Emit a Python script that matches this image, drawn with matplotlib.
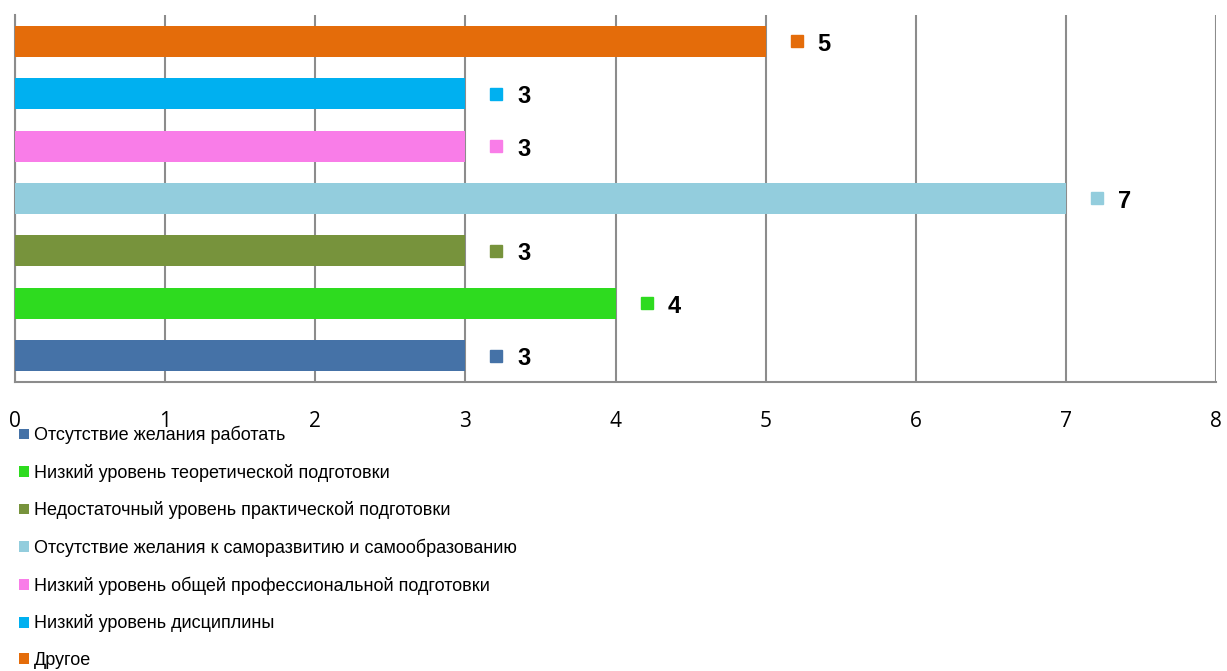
import matplotlib
matplotlib.use('Agg')
import matplotlib.pyplot as plt
import matplotlib.transforms as mtransforms
from matplotlib.patches import Patch
from matplotlib import font_manager

categories = [
    'Отсутствие желания работать',
    'Низкий уровень теоретической подготовки',
    'Недостаточный уровень практической подготовки',
    'Отсутствие желания к саморазвитию и самообразованию',
    'Низкий уровень общей профессиональной подготовки',
    'Низкий уровень дисциплины',
    'Другое',
]
values = [3, 4, 3, 7, 3, 3, 5]
colors = ['#4572a7', '#2edb1f', '#77933c', '#93cddd', '#f97de8', '#00b0f0', '#e46c0a']
x_ticks = [0, 1, 2, 3, 4, 5, 6, 7, 8]

names = {f.name for f in font_manager.fontManager.ttflist}
narrow = 'Liberation Sans Narrow' if 'Liberation Sans Narrow' in names else 'Liberation Sans'

fig = plt.figure(figsize=(12.27, 6.71), dpi=100)
ax = fig.add_axes([15 / 1227, 1 - 382 / 671, 1201 / 1227, 367 / 671])

ypos = list(range(len(categories)))
ax.barh(ypos, values, height=0.59, color=colors, zorder=3)

ax.set_xlim(0, 8)
ax.set_ylim(-0.5, 6.5)
ax.set_xticks(x_ticks)
ax.set_xticklabels([str(t) for t in x_ticks], fontsize=15, family='Open Sans')
ax.tick_params(axis='x', length=0, pad=21)
ax.set_yticks([])
ax.grid(axis='x', color='#8c8c8c', linewidth=1.5, zorder=0)
for s in ['top', 'right']:
    ax.spines[s].set_visible(False)
for s in ['left', 'bottom']:
    ax.spines[s].set_color('#8c8c8c')
    ax.spines[s].set_linewidth(1.5)

# value labels with small colour squares
for y, v, c in zip(ypos, values, colors):
    tr = mtransforms.offset_copy(ax.transData, fig=fig, x=31, y=0, units='dots')
    ax.plot([v], [y], marker='s', markersize=8.5, color=c, transform=tr,
            clip_on=False, zorder=4)
    ax.annotate(str(v), (v, y), xytext=(52, -3), textcoords='offset pixels',
                ha='left', va='center', fontsize=17, fontweight='bold',
                family=narrow, color='black')

handles = [Patch(facecolor=c, edgecolor='none') for c in colors]
fig.legend(handles, categories, loc='upper left', bbox_to_anchor=(10 / 1227, 1 - 417 / 671),
           frameon=False, borderpad=0, handlelength=0.55, handleheight=0.55,
           handletextpad=0.3, labelspacing=1.08, prop={'family': narrow, 'size': 13})

fig.savefig('out.png', dpi=100)
